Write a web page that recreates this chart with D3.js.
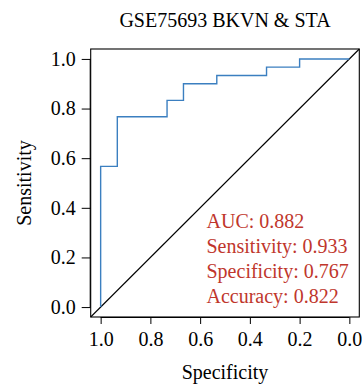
<!DOCTYPE html>
<html>
<head>
<meta charset="utf-8">
<script src="https://cdn.jsdelivr.net/npm/d3@7"></script>
<style>
body { margin: 0; background: #fff; }
svg text { font-family: "Liberation Serif", "DejaVu Serif", serif; }
</style>
</head>
<body>
<svg id="roc"></svg>
<script>
// ROC points (specificity, sensitivity)
var specificity = [1.0, 1.0, 0.933, 0.733, 0.667, 0.533, 0.333, 0.2, 0.0]
var sensitivity = [0.0, 0.567, 0.767, 0.833, 0.9, 0.933, 0.967, 1.0, 1.0]
var ticks = [1.0, 0.8, 0.6, 0.4, 0.2, 0.0]
var stats = ["AUC: 0.882", "Sensitivity: 0.933", "Specificity: 0.767", "Accuracy: 0.822"]

const width = 362, height = 390
const box = { left: 90.7, right: 359.3, top: 49, bottom: 317 }
const fs = 20

const svg = d3.select("#roc")
    .attr("width", width)
    .attr("height", height)

// R-style axes with 4% padding
const x = d3.scaleLinear().domain([1.04, -0.04]).range([box.left, box.right])
const y = d3.scaleLinear().domain([-0.04, 1.04]).range([box.bottom, box.top])

// title
svg.append("text")
    .attr("x", (box.left + box.right) / 2)
    .attr("y", 27)
    .attr("text-anchor", "middle")
    .attr("font-size", fs)
    .text("GSE75693 BKVN & STA")

// diagonal reference line
svg.append("line")
    .attr("x1", x(1.04)).attr("y1", y(-0.04))
    .attr("x2", x(-0.04)).attr("y2", y(1.04))
    .attr("stroke", "#000")
    .attr("stroke-width", 1.1)

// ROC curve
const pts = specificity.map((s, i) => [s, sensitivity[i]])
const line = d3.line()
    .x(d => x(d[0]))
    .y(d => y(d[1]))
    .curve(d3.curveStepAfter)

svg.append("path")
    .datum(pts)
    .attr("d", line)
    .attr("fill", "none")
    .attr("stroke", "#3b7fc0")
    .attr("stroke-width", 1.4)

// box
svg.append("rect")
    .attr("x", box.left).attr("y", box.top)
    .attr("width", box.right - box.left)
    .attr("height", box.bottom - box.top)
    .attr("fill", "none")
    .attr("stroke", "#000")
    .attr("stroke-width", 1.1)

// x axis
const xAxis = svg.append("g")
    .attr("transform", `translate(0,${box.bottom})`)
    .call(d3.axisBottom(x).tickValues(ticks).tickFormat(d3.format(".1f")).tickSize(7).tickPadding(8))
xAxis.select(".domain").attr("d", `M${x(1)},0.5H${x(0)}`)
xAxis.selectAll("text").attr("font-size", fs).attr("fill", "#000")
    .attr("font-family", "Liberation Serif")

// y axis
const yAxis = svg.append("g")
    .attr("transform", `translate(${box.left},0)`)
    .call(d3.axisLeft(y).tickValues(ticks).tickFormat(d3.format(".1f")).tickSize(9).tickPadding(6))
yAxis.select(".domain").attr("d", `M-0.5,${y(0)}V${y(1)}`)
yAxis.selectAll("text").attr("font-size", fs).attr("fill", "#000")
    .attr("font-family", "Liberation Serif")

// axis labels
svg.append("text")
    .attr("x", (box.left + box.right) / 2)
    .attr("y", 379)
    .attr("text-anchor", "middle")
    .attr("font-size", fs)
    .text("Specificity")

svg.append("text")
    .attr("transform", `translate(31,${(box.top + box.bottom) / 2}) rotate(-90)`)
    .attr("text-anchor", "middle")
    .attr("font-size", fs)
    .text("Sensitivity")

// stats text
svg.selectAll(".stat")
    .data(stats)
    .enter().append("text")
    .attr("class", "stat")
    .attr("x", 206.5)
    .attr("y", (d, i) => 227.7 + i * 25.2)
    .attr("font-size", fs)
    .attr("fill", "#c0362c")
    .text(d => d)
</script>
</body>
</html>
